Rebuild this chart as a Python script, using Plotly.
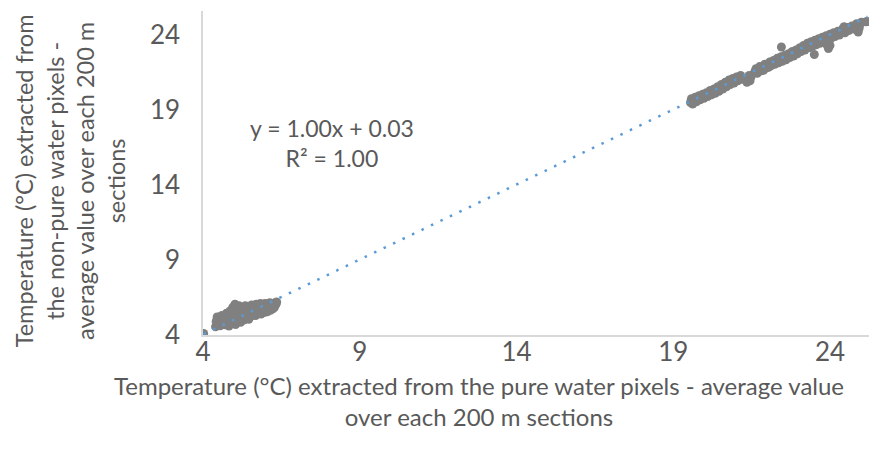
import plotly.graph_objects as go

# ---- data ----
x_low = [4.02, 4.40, 4.42, 4.45, 4.48, 4.50, 4.55, 4.58, 4.60, 4.62, 4.66,
         4.70, 4.72, 4.75, 4.78, 4.80, 4.83, 4.86, 4.88, 4.90, 4.92,
         4.95, 4.97, 5.00, 5.02, 5.04, 5.06, 5.08, 5.10, 5.13, 5.15,
         5.18, 5.20, 5.22, 5.25, 5.28, 5.30, 5.33, 5.35, 5.38, 5.40,
         5.43, 5.46, 5.48, 5.50, 5.53, 5.55, 5.58, 5.60, 5.63, 5.65,
         5.68, 5.70, 5.73, 5.75, 5.78, 5.80, 5.83, 5.85, 5.88, 5.90,
         5.93, 5.95, 5.98, 6.00, 6.03, 6.05, 6.08, 6.10, 6.13, 6.15,
         6.18, 6.20, 6.23, 6.25, 6.28, 6.30, 6.33, 6.35]
y_low = [4.10, 4.55, 4.90, 5.20, 4.70, 5.05, 4.62, 4.95, 5.30, 4.80, 5.10,
         4.68, 5.00, 5.45, 4.85, 5.20, 4.60, 5.60, 5.05, 4.75, 5.35,
         5.85, 4.95, 5.50, 6.05, 4.70, 5.20, 5.75, 4.90, 5.40, 5.95,
         5.10, 4.85, 5.60, 5.30, 5.80, 5.00, 5.50, 5.95, 5.20, 5.70,
         5.35, 5.05, 5.85, 5.50, 5.25, 6.00, 5.65, 5.35, 5.90, 5.55,
         5.30, 6.05, 5.70, 5.45, 5.95, 5.60, 6.10, 5.40, 5.80, 6.00,
         5.65, 5.50, 6.10, 5.75, 5.90, 5.55, 6.05, 5.80, 6.15, 5.65,
         5.95, 6.10, 5.75, 6.00, 5.85, 6.15, 6.05, 6.20]

x_high = [19.55, 19.58, 19.62, 19.66, 19.70, 19.74, 19.78, 19.82, 19.86, 19.90,
          19.94, 19.98, 20.02, 20.06, 20.10, 20.14, 20.18, 20.22, 20.26, 20.30,
          20.34, 20.38, 20.42, 20.46, 20.50, 20.54, 20.58, 20.62, 20.66, 20.70,
          20.74, 20.78, 20.82, 20.86, 20.90, 20.94, 20.98, 21.02, 21.06, 21.10,
          21.15, 21.20,
          21.35, 21.38, 21.42, 21.45, 21.48,
          21.60, 21.64, 21.68, 21.72, 21.76, 21.80, 21.84, 21.88, 21.92, 21.96,
          22.00, 22.04, 22.08, 22.12, 22.16, 22.20, 22.24, 22.28, 22.32, 22.36,
          22.40, 22.45, 22.44, 22.48, 22.52, 22.56, 22.60, 22.64, 22.68, 22.72,
          22.76, 22.80, 22.84, 22.88, 22.92, 22.96, 23.00, 23.04, 23.08, 23.12,
          23.16, 23.20, 23.24, 23.28, 23.32, 23.36, 23.40, 23.44, 23.48, 23.50,
          23.52, 23.56, 23.60, 23.64, 23.68, 23.72, 23.76, 23.80, 23.84, 23.88,
          23.90, 23.92, 23.95, 23.96, 24.00, 24.00, 24.04, 24.08, 24.12, 24.16,
          24.20, 24.25, 24.30, 24.35, 24.40, 24.45, 24.45, 24.48, 24.52, 24.56,
          24.60, 24.65, 24.70, 24.75, 24.80, 24.85, 24.90, 24.93, 24.96, 25.00,
          25.15, 25.20]
y_high = [19.50, 19.75, 19.40, 19.62, 19.85, 19.55, 19.70, 19.95, 19.68, 19.80,
          20.05, 19.78, 19.95, 20.15, 19.90, 20.05, 20.30, 20.02, 20.20, 20.40,
          20.12, 20.30, 20.55, 20.25, 20.45, 20.70, 20.40, 20.60, 20.85, 20.55,
          20.75, 21.00, 20.70, 20.90, 21.10, 20.80, 21.05, 21.20, 20.95, 21.15,
          21.30, 21.05,
          20.85, 21.10, 21.30, 20.95, 21.20,
          21.55, 21.75, 21.45, 21.70, 21.90, 21.60, 21.85, 21.65, 22.05, 21.80,
          22.00, 21.85, 22.20, 21.95, 22.10, 22.30, 22.05, 22.25, 22.45, 22.15,
          22.35, 23.20, 22.55, 22.25, 22.45, 22.65, 22.35, 22.55, 22.75, 22.50,
          22.70, 22.90, 22.60, 22.80, 23.00, 22.75, 22.95, 23.15, 22.90, 23.10,
          23.30, 23.00, 23.25, 23.45, 23.15, 23.35, 23.55, 23.25, 23.45, 22.70,
          23.65, 23.35, 23.55, 23.75, 23.45, 23.65, 23.85, 23.55, 23.75, 23.95,
          23.35, 23.70, 23.10, 23.90, 24.05, 23.30, 23.80, 24.00, 24.15, 23.90,
          24.10, 24.25, 24.00, 24.20, 24.40, 24.55, 24.30, 24.15, 24.35, 24.50,
          24.30, 24.45, 24.60, 24.40, 24.55, 24.75, 24.20, 24.45, 24.70, 24.85,
          24.88, 24.90]

trend_slope = 1.00
trend_intercept = 0.03
tick_vals = [4, 9, 14, 19, 24]

x_title = ("Temperature (°C) extracted from the pure water pixels - average value"
           "<br>over each 200 m sections")
y_title = ("Temperature (°C) extracted from<br>the non-pure water pixels -"
           "<br>average value over each 200 m<br>sections")
eq_text = "y = 1.00x + 0.03<br>R² = 1.00"

# ---- figure ----
x_all = x_low + x_high
y_all = y_low + y_high
tx = [min(x_all), max(x_all)]
ty = [trend_slope * v + trend_intercept for v in tx]

FONT = "Lato"
TXT = "#595959"

fig = go.Figure()
fig.add_trace(go.Scatter(x=x_all, y=y_all, mode="markers",
                         marker=dict(color="#808080", size=9, line=dict(width=0)),
                         showlegend=False))
fig.add_trace(go.Scatter(x=tx, y=ty, mode="lines",
                         line=dict(color="#5b9bd5", width=2.5, dash="2.5px,8px"),
                         showlegend=False))

axis_common = dict(showgrid=False, zeroline=False, showline=True,
                   linecolor="#d9d9d9", linewidth=1.5, ticks="",
                   tickvals=tick_vals,
                   tickfont=dict(family=FONT, size=26, color=TXT))
fig.update_xaxes(range=[4, 25.5], ticklabelstandoff=-7, **axis_common)
fig.update_yaxes(range=[4, 25.6], ticklabelstandoff=16, **axis_common)

fig.add_annotation(text=x_title, xref="paper", yref="paper", x=0.4095, y=-0.205,
                   xanchor="center", yanchor="middle", showarrow=False,
                   font=dict(family=FONT, size=24, color=TXT))
fig.add_annotation(text=y_title, xref="paper", yref="paper", x=-0.197, y=0.475,
                   xanchor="center", yanchor="middle", textangle=-90, showarrow=False,
                   font=dict(family=FONT, size=23.5, color=TXT))
fig.add_annotation(text=eq_text, xref="x", yref="y", x=8.1, y=16.8,
                   xanchor="center", yanchor="middle", showarrow=False,
                   font=dict(family=FONT, size=23, color=TXT))

# the page body has an 8px margin, so the figure is sized to end at the window edge
fig.update_layout(width=869, height=451, autosize=False,
                  margin=dict(l=195, r=0, t=3, b=124),
                  paper_bgcolor="white", plot_bgcolor="white")

fig.write_html("out.html")
